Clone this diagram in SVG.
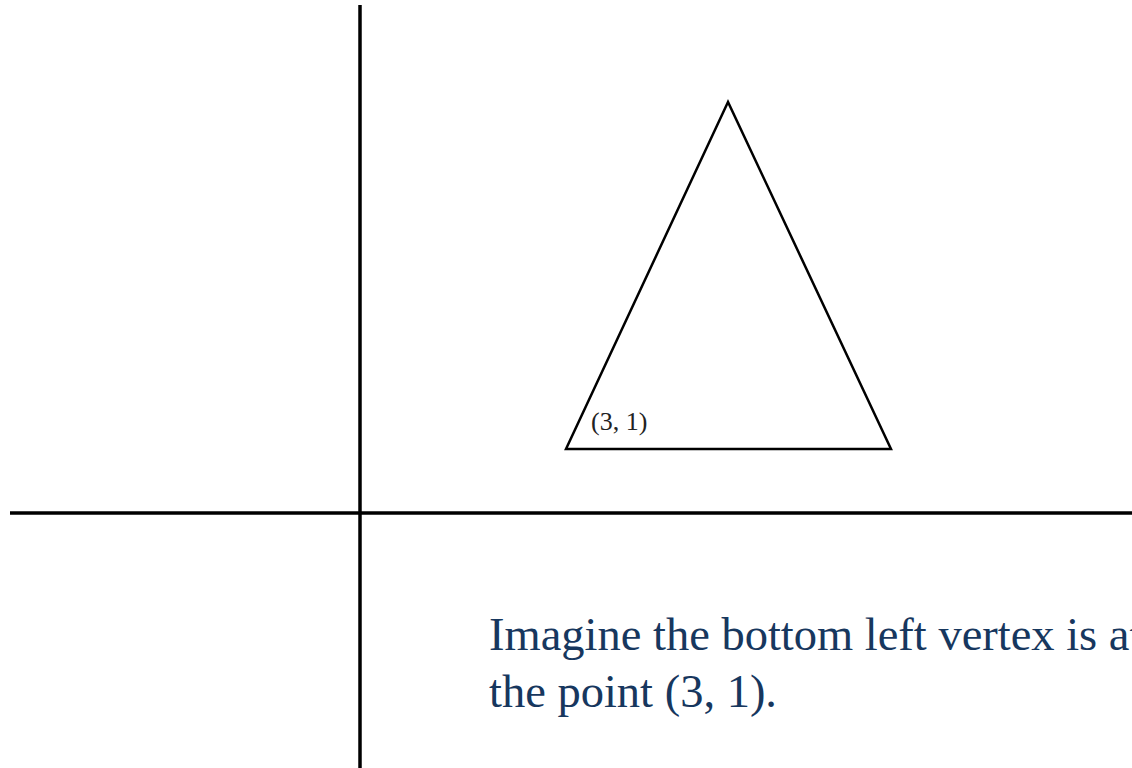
<svg xmlns="http://www.w3.org/2000/svg" width="1132" height="768" viewBox="0 0 1132 768">
<style>
.axis{stroke:#000;stroke-width:3.5;fill:none}
.tri{stroke:#000;stroke-width:2.5;fill:none;stroke-linejoin:miter}
.lbl{font-family:"Liberation Serif",serif;font-size:26px;fill:#222}
.cap{font-family:"Liberation Serif",serif;font-size:46.5px;fill:#17375e}
</style>
<rect width="1132" height="768" fill="#fff"/>
<g id="axes">
<line class="axis" x1="360" y1="5" x2="360" y2="768"/>
<line class="axis" x1="10" y1="513" x2="1132" y2="513"/>
</g>
<g id="triangle">
<polygon class="tri" points="728,102 566,449 891,449"/>
<text class="lbl" x="591" y="430">(3, 1)</text>
</g>
<g id="caption">
<text class="cap" x="489" y="650">Imagine the bottom left vertex is at</text>
<text class="cap" x="489" y="707">the point (3, 1).</text>
</g>
</svg>
